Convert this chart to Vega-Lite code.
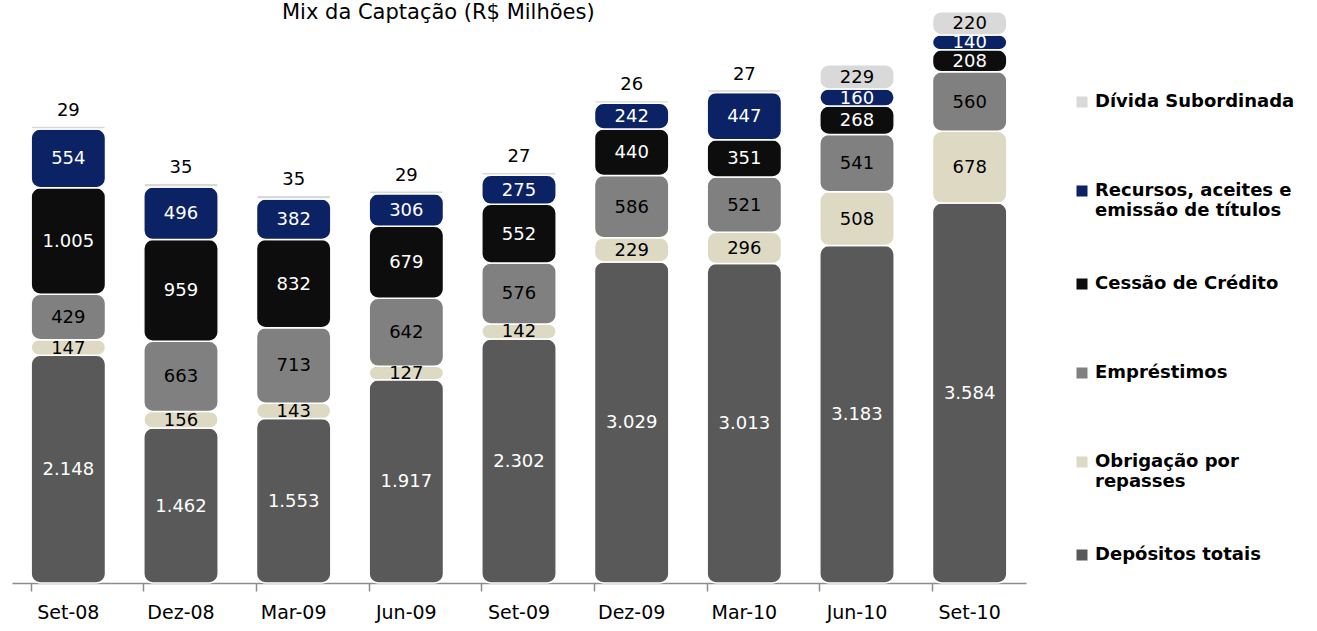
{
  "$schema": "https://vega.github.io/schema/vega-lite/v6.json",
  "width": 1014,
  "height": 583,
  "autosize": {"type": "none"},
  "padding": {"left": 12, "top": 0, "right": 291, "bottom": 48},
  "background": "white",
  "title": {
    "text": "Mix da Captação (R$ Milhões)",
    "font": "DejaVu Sans",
    "fontSize": 21,
    "fontWeight": "normal",
    "color": "black",
    "anchor": "start",
    "dx": 270,
    "offset": -23
  },
  "config": {
    "locale": {"number": {"decimal": ",", "thousands": ".", "grouping": [3], "currency": ["R$", ""]}},
    "view": {"stroke": null},
    "font": "DejaVu Sans"
  },
  "data": {
    "values": [
      {"periodo": "Set-08", "serie": "Depósitos totais", "ordem": 1, "valor": 2148},
      {"periodo": "Set-08", "serie": "Obrigação por repasses", "ordem": 2, "valor": 147},
      {"periodo": "Set-08", "serie": "Empréstimos", "ordem": 3, "valor": 429},
      {"periodo": "Set-08", "serie": "Cessão de Crédito", "ordem": 4, "valor": 1005},
      {"periodo": "Set-08", "serie": "Recursos, aceites e emissão de títulos", "ordem": 5, "valor": 554},
      {"periodo": "Set-08", "serie": "Dívida Subordinada", "ordem": 6, "valor": 29},
      {"periodo": "Dez-08", "serie": "Depósitos totais", "ordem": 1, "valor": 1462},
      {"periodo": "Dez-08", "serie": "Obrigação por repasses", "ordem": 2, "valor": 156},
      {"periodo": "Dez-08", "serie": "Empréstimos", "ordem": 3, "valor": 663},
      {"periodo": "Dez-08", "serie": "Cessão de Crédito", "ordem": 4, "valor": 959},
      {"periodo": "Dez-08", "serie": "Recursos, aceites e emissão de títulos", "ordem": 5, "valor": 496},
      {"periodo": "Dez-08", "serie": "Dívida Subordinada", "ordem": 6, "valor": 35},
      {"periodo": "Mar-09", "serie": "Depósitos totais", "ordem": 1, "valor": 1553},
      {"periodo": "Mar-09", "serie": "Obrigação por repasses", "ordem": 2, "valor": 143},
      {"periodo": "Mar-09", "serie": "Empréstimos", "ordem": 3, "valor": 713},
      {"periodo": "Mar-09", "serie": "Cessão de Crédito", "ordem": 4, "valor": 832},
      {"periodo": "Mar-09", "serie": "Recursos, aceites e emissão de títulos", "ordem": 5, "valor": 382},
      {"periodo": "Mar-09", "serie": "Dívida Subordinada", "ordem": 6, "valor": 35},
      {"periodo": "Jun-09", "serie": "Depósitos totais", "ordem": 1, "valor": 1917},
      {"periodo": "Jun-09", "serie": "Obrigação por repasses", "ordem": 2, "valor": 127},
      {"periodo": "Jun-09", "serie": "Empréstimos", "ordem": 3, "valor": 642},
      {"periodo": "Jun-09", "serie": "Cessão de Crédito", "ordem": 4, "valor": 679},
      {"periodo": "Jun-09", "serie": "Recursos, aceites e emissão de títulos", "ordem": 5, "valor": 306},
      {"periodo": "Jun-09", "serie": "Dívida Subordinada", "ordem": 6, "valor": 29},
      {"periodo": "Set-09", "serie": "Depósitos totais", "ordem": 1, "valor": 2302},
      {"periodo": "Set-09", "serie": "Obrigação por repasses", "ordem": 2, "valor": 142},
      {"periodo": "Set-09", "serie": "Empréstimos", "ordem": 3, "valor": 576},
      {"periodo": "Set-09", "serie": "Cessão de Crédito", "ordem": 4, "valor": 552},
      {"periodo": "Set-09", "serie": "Recursos, aceites e emissão de títulos", "ordem": 5, "valor": 275},
      {"periodo": "Set-09", "serie": "Dívida Subordinada", "ordem": 6, "valor": 27},
      {"periodo": "Dez-09", "serie": "Depósitos totais", "ordem": 1, "valor": 3029},
      {"periodo": "Dez-09", "serie": "Obrigação por repasses", "ordem": 2, "valor": 229},
      {"periodo": "Dez-09", "serie": "Empréstimos", "ordem": 3, "valor": 586},
      {"periodo": "Dez-09", "serie": "Cessão de Crédito", "ordem": 4, "valor": 440},
      {"periodo": "Dez-09", "serie": "Recursos, aceites e emissão de títulos", "ordem": 5, "valor": 242},
      {"periodo": "Dez-09", "serie": "Dívida Subordinada", "ordem": 6, "valor": 26},
      {"periodo": "Mar-10", "serie": "Depósitos totais", "ordem": 1, "valor": 3013},
      {"periodo": "Mar-10", "serie": "Obrigação por repasses", "ordem": 2, "valor": 296},
      {"periodo": "Mar-10", "serie": "Empréstimos", "ordem": 3, "valor": 521},
      {"periodo": "Mar-10", "serie": "Cessão de Crédito", "ordem": 4, "valor": 351},
      {"periodo": "Mar-10", "serie": "Recursos, aceites e emissão de títulos", "ordem": 5, "valor": 447},
      {"periodo": "Mar-10", "serie": "Dívida Subordinada", "ordem": 6, "valor": 27},
      {"periodo": "Jun-10", "serie": "Depósitos totais", "ordem": 1, "valor": 3183},
      {"periodo": "Jun-10", "serie": "Obrigação por repasses", "ordem": 2, "valor": 508},
      {"periodo": "Jun-10", "serie": "Empréstimos", "ordem": 3, "valor": 541},
      {"periodo": "Jun-10", "serie": "Cessão de Crédito", "ordem": 4, "valor": 268},
      {"periodo": "Jun-10", "serie": "Recursos, aceites e emissão de títulos", "ordem": 5, "valor": 160},
      {"periodo": "Jun-10", "serie": "Dívida Subordinada", "ordem": 6, "valor": 229},
      {"periodo": "Set-10", "serie": "Depósitos totais", "ordem": 1, "valor": 3584},
      {"periodo": "Set-10", "serie": "Obrigação por repasses", "ordem": 2, "valor": 678},
      {"periodo": "Set-10", "serie": "Empréstimos", "ordem": 3, "valor": 560},
      {"periodo": "Set-10", "serie": "Cessão de Crédito", "ordem": 4, "valor": 208},
      {"periodo": "Set-10", "serie": "Recursos, aceites e emissão de títulos", "ordem": 5, "valor": 140},
      {"periodo": "Set-10", "serie": "Dívida Subordinada", "ordem": 6, "valor": 220}
    ]
  },
  "transform": [
    {"stack": "valor", "groupby": ["periodo"], "sort": [{"field": "ordem", "order": "ascending"}], "as": ["v0", "v1"]}
  ],
  "encoding": {
    "x": {
      "field": "periodo",
      "type": "nominal",
      "sort": ["Set-08", "Dez-08", "Mar-09", "Jun-09", "Set-09", "Dez-09", "Mar-10", "Jun-10", "Set-10"],
      "scale": {"paddingInner": 0.34, "paddingOuter": 0.17},
      "axis": {
        "title": null,
        "labelAngle": 0,
        "labelFont": "DejaVu Sans",
        "labelFontSize": 19,
        "labelColor": "black",
        "labelPadding": 12,
        "domainColor": "#8c8c8c",
        "domainWidth": 1.5,
        "tickColor": "#8c8c8c",
        "tickWidth": 1.5,
        "tickSize": 8,
        "bandPosition": 0
      }
    }
  },
  "layer": [
    {
      "mark": {"type": "bar", "cornerRadius": 9, "stroke": "white", "strokeWidth": 1.5},
      "encoding": {
        "y": {"field": "v0", "type": "quantitative", "scale": {"domain": [0, 5500], "nice": false}, "axis": null},
        "y2": {"field": "v1"},
        "color": {
          "field": "serie",
          "type": "nominal",
          "scale": {
            "domain": ["Dívida Subordinada", "Recursos, aceites e emissão de títulos", "Cessão de Crédito", "Empréstimos", "Obrigação por repasses", "Depósitos totais"],
            "range": ["#d9d9d9", "#0b2265", "#0d0d0d", "#808080", "#ddd9c3", "#595959"]
          },
          "legend": {
            "title": null,
            "orient": "none",
            "legendX": 1061,
            "legendY": 77,
            "symbolType": "square",
            "symbolSize": 121,
            "symbolStrokeWidth": 0,
            "labelFont": "DejaVu Sans",
            "labelFontSize": 18,
            "labelFontWeight": "bold",
            "labelColor": "black",
            "labelLimit": 300,
            "labelOffset": 4,
            "clipHeight": 50,
            "rowPadding": 39,
            "labelExpr": "datum.label == 'Recursos, aceites e emissão de títulos' ? ['Recursos, aceites e', 'emissão de títulos'] : datum.label == 'Obrigação por repasses' ? ['Obrigação por', 'repasses'] : datum.label"
          }
        }
      }
    },
    {
      "transform": [
        {"filter": "!(datum.serie == 'Dívida Subordinada' && datum.valor < 100)"},
        {"fold": ["v0", "v1"], "as": ["extremo", "pos"]},
        {"aggregate": [{"op": "mean", "field": "pos", "as": "meio"}], "groupby": ["periodo", "serie", "valor"]}
      ],
      "mark": {"type": "text", "font": "DejaVu Sans", "fontSize": 18, "baseline": "middle", "dy": 1},
      "encoding": {
        "y": {"field": "meio", "type": "quantitative"},
        "text": {"field": "valor", "type": "quantitative", "format": ",d"},
        "color": {
          "condition": {"test": "indexof(['Depósitos totais', 'Cessão de Crédito', 'Recursos, aceites e emissão de títulos'], datum.serie) >= 0", "value": "white"},
          "value": "black"
        }
      }
    },
    {
      "transform": [{"filter": "datum.serie == 'Dívida Subordinada' && datum.valor < 100"}],
      "mark": {"type": "text", "font": "DejaVu Sans", "fontSize": 18, "baseline": "bottom", "dy": -6, "color": "black"},
      "encoding": {
        "y": {"field": "v1", "type": "quantitative"},
        "text": {"field": "valor", "type": "quantitative", "format": ",d"}
      }
    }
  ]
}
